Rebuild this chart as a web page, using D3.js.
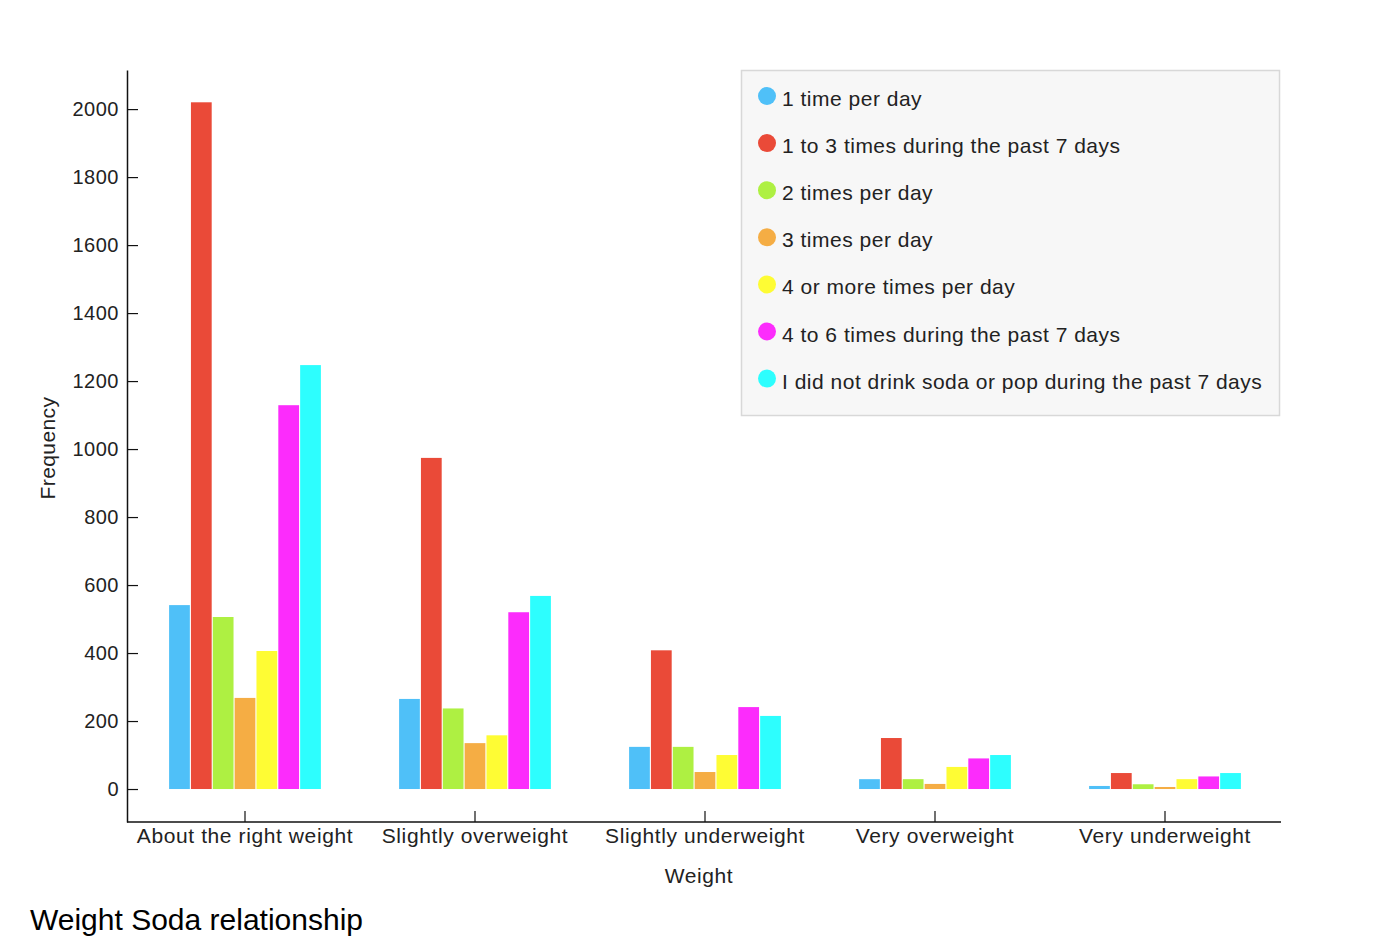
<!DOCTYPE html>
<html><head><meta charset="utf-8">
<script src="https://cdn.jsdelivr.net/npm/d3@7"></script>
<style>body{margin:0;background:#fff;} text{font-family:"Liberation Sans",Arial,Helvetica,sans-serif;}</style>
</head><body>
<svg id="c" width="1374" height="946"></svg>
<script>
const categories = ["About the right weight","Slightly overweight","Slightly underweight","Very overweight","Very underweight"];
const seriesNames = ["1 time per day","1 to 3 times during the past 7 days","2 times per day","3 times per day","4 or more times per day","4 to 6 times during the past 7 days","I did not drink soda or pop during the past 7 days"];
const seriesColors = ["#4fc0f8","#ea4a38","#aef042","#f5ad44","#fefc34","#fc2cfc","#2dfefe"];
// values[series][category]
const s1 = [541, 265, 124, 29, 9];
const s2 = [2020, 974, 408, 150, 47];
const s3 = [506, 237, 124, 29, 14];
const s4 = [268, 135, 50, 15, 6];
const s5 = [406, 158, 100, 65, 29];
const s6 = [1129, 520, 241, 90, 37];
const s7 = [1247, 568, 215, 100, 47];
const seriesValues = [s1,s2,s3,s4,s5,s6,s7];
const yTicks = [0,200,400,600,800,1000,1200,1400,1600,1800,2000];

const svg = d3.select("#c");
const x0 = d3.scaleBand().domain(categories).range([130,1280]).paddingInner(0.34).paddingOuter(0.17);
const x1 = d3.scaleBand().domain(d3.range(seriesNames.length)).range([0,x0.bandwidth()]).paddingInner(0.05);
const y = d3.scaleLinear().domain([-97,2115]).range([822,70]);

// bars
const g = svg.append("g");
categories.forEach((c,ci)=>{
  seriesValues.forEach((vals,si)=>{
    g.append("rect")
      .attr("x", x0(c)+x1(si))
      .attr("width", x1.bandwidth())
      .attr("y", y(vals[ci]))
      .attr("height", y(0)-y(vals[ci]))
      .attr("fill", seriesColors[si]);
  });
});

// y axis
const yAxis = d3.axisLeft(y).tickValues(yTicks).tickFormat(d3.format("d")).tickSizeInner(-11).tickSizeOuter(0).tickPadding(8);
const ya = svg.append("g").attr("transform","translate(127,0)").call(yAxis);
ya.select(".domain").attr("stroke","#111").attr("stroke-width",1.5);
ya.selectAll(".tick line").attr("stroke","#111").attr("stroke-width",1.2);
ya.selectAll(".tick text").attr("font-size",20).attr("letter-spacing","0.5px").attr("fill","#222").attr("font-family","Liberation Sans, Arial, sans-serif");

// x axis
const xAxis = d3.axisBottom(x0).tickSizeInner(-11).tickSizeOuter(0).tickPadding(3);
const xa = svg.append("g").attr("transform","translate(0,822)").call(xAxis);
xa.select(".domain").attr("stroke","#111").attr("stroke-width",1.5).attr("d","M127,0H1281");
xa.selectAll(".tick line").attr("stroke","#111").attr("stroke-width",1.2);
xa.selectAll(".tick text").attr("font-size",21).attr("letter-spacing","0.6px").attr("fill","#222").attr("font-family","Liberation Sans, Arial, sans-serif").attr("dy","0.85em");

// axis titles
svg.append("text").attr("x",699).attr("y",883).attr("text-anchor","middle").attr("font-size",21).attr("letter-spacing","0.6px").attr("fill","#222").text("Weight");
svg.append("text").attr("transform","translate(55,448) rotate(-90)").attr("text-anchor","middle").attr("font-size",21).attr("letter-spacing","0.4px").attr("fill","#222").text("Frequency");

// legend
const lg = svg.append("g");
lg.append("rect").attr("x",741.5).attr("y",70.5).attr("width",538).attr("height",345).attr("fill","#f7f7f7").attr("stroke","#d8d8d8").attr("stroke-width",1.5);
seriesNames.forEach((n,i)=>{
  const cy = 96 + i*47.1;
  lg.append("circle").attr("cx",767).attr("cy",cy).attr("r",9).attr("fill",seriesColors[i]);
  lg.append("text").attr("x",782).attr("y",cy+10).attr("font-size",21).attr("letter-spacing","0.5px").attr("fill","#222").text(n);
});

// title
svg.append("text").attr("x",30).attr("y",930).attr("font-size",30).attr("fill","#000").text("Weight Soda relationship");
</script>
</body></html>
